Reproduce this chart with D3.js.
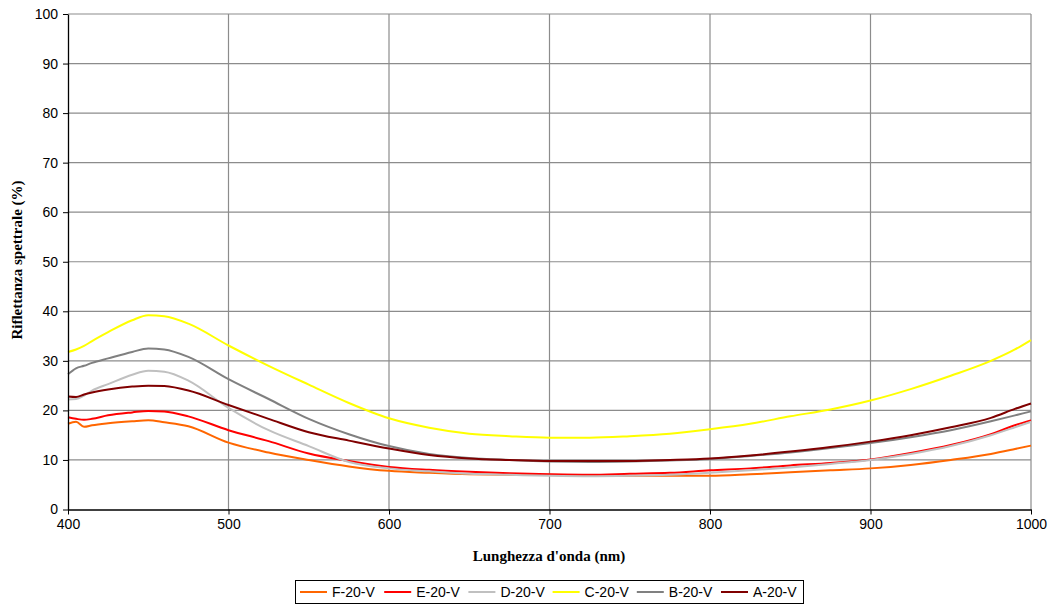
<!DOCTYPE html>
<html>
<head>
<meta charset="utf-8">
<script src="https://cdn.jsdelivr.net/npm/d3@7"></script>
<style>
  html, body { margin: 0; padding: 0; background: #fff; }
  svg { display: block; }
</style>
</head>
<body>
<svg id="chart" width="1052" height="607"></svg>
<script>
// Wavelengths (nm) sampled for every series
const wavelengths = [400,405,410,415,425,440,450,460,475,500,525,550,575,600,625,650,675,700,725,750,775,800,825,850,875,900,925,950,975,990,1000];

// Spectral reflectance (%) per sample
const seriesF = [17.3,17.7,16.7,17.0,17.4,17.8,18.0,17.6,16.8,13.5,11.5,10.0,8.7,7.8,7.4,7.1,7.0,7.0,6.9,6.8,6.8,6.8,7.1,7.5,7.9,8.3,9.0,10.0,11.2,12.2,12.9];
const seriesE = [18.6,18.3,18.1,18.3,19.0,19.6,19.9,19.8,18.8,16.0,13.8,11.3,9.8,8.6,8.0,7.6,7.3,7.1,7.0,7.2,7.4,7.9,8.3,8.9,9.4,10.1,11.4,13.0,15.2,17.0,18.0];
const seriesD = [22.2,22.3,23.0,24.0,25.3,27.2,28.0,27.8,26.0,20.5,16.0,12.8,9.6,8.3,7.7,7.2,7.0,6.8,6.7,6.8,7.0,7.4,7.9,8.5,9.2,10.0,11.2,12.8,15.0,16.6,17.7];
const seriesC = [31.8,32.3,33.0,34.0,35.8,38.2,39.2,39.0,37.5,33.1,29.0,25.2,21.5,18.4,16.5,15.3,14.8,14.5,14.5,14.8,15.3,16.2,17.3,18.8,20.2,22.0,24.3,27.0,30.0,32.3,34.2];
const seriesB = [27.3,28.5,29.0,29.6,30.5,31.8,32.5,32.3,30.8,26.3,22.3,18.3,15.2,12.8,11.2,10.4,10.0,9.7,9.6,9.7,9.9,10.2,10.8,11.5,12.4,13.4,14.6,16.0,17.8,19.0,19.8];
const seriesA = [22.8,22.7,23.2,23.6,24.2,24.8,25.0,24.9,24.0,21.1,18.3,15.6,13.9,12.3,11.0,10.3,10.0,9.8,9.8,9.8,10.0,10.3,10.9,11.7,12.6,13.7,15.0,16.6,18.5,20.3,21.4];

const seriesNames = ["F-20-V","E-20-V","D-20-V","C-20-V","B-20-V","A-20-V"];
const seriesColors = ["#FF6600","#FF0000","#C0C0C0","#FFFF00","#808080","#800000"];
const seriesValues = [seriesF, seriesE, seriesD, seriesC, seriesB, seriesA];

const xTicks = [400,500,600,700,800,900,1000];
const yTicks = [0,10,20,30,40,50,60,70,80,90,100];

const svg = d3.select("#chart");
const plotLeft = 68, plotRight = 1031, plotTop = 14, plotBottom = 509.5;

const x = d3.scaleLinear().domain([400, 1000]).range([plotLeft, plotRight]);
const y = d3.scaleLinear().domain([0, 100]).range([plotBottom, plotTop]);

// Gridlines
const grid = svg.append("g");
grid.selectAll("line.h").data(yTicks.filter(d => d > 0)).join("line")
  .attr("x1", plotLeft).attr("x2", plotRight)
  .attr("y1", d => y(d)).attr("y2", d => y(d))
  .attr("stroke", "#8c8c8c").attr("stroke-width", 1.2);
grid.selectAll("line.v").data(xTicks.filter(d => d > 400)).join("line")
  .attr("y1", plotTop).attr("y2", plotBottom)
  .attr("x1", d => x(d)).attr("x2", d => x(d))
  .attr("stroke", "#8c8c8c").attr("stroke-width", 1.2);

// Series lines
const line = d3.line()
  .x((d, i) => x(wavelengths[i]))
  .y(d => y(d))
  .curve(d3.curveMonotoneX);

svg.append("g").selectAll("path").data(seriesValues).join("path")
  .attr("d", d => line(d))
  .attr("fill", "none")
  .attr("stroke", (d, i) => seriesColors[i])
  .attr("stroke-width", 2);

// Axes
const yAxis = svg.append("g").attr("transform", `translate(${plotLeft},0)`)
  .call(d3.axisLeft(y).tickValues(yTicks).tickFormat(d3.format("d"))
    .tickSize(5).tickSizeOuter(0).tickPadding(5));
const xAxis = svg.append("g").attr("transform", `translate(0,${plotBottom})`)
  .call(d3.axisBottom(x).tickValues(xTicks).tickFormat(d3.format("d"))
    .tickSize(5).tickSizeOuter(0).tickPadding(5));

[yAxis, xAxis].forEach(ax => {
  ax.select(".domain").attr("stroke", "#000").attr("stroke-width", 1.3);
  ax.selectAll(".tick line").attr("stroke", "#000");
  ax.selectAll(".tick text")
    .attr("font-family", "Liberation Sans, Arial, sans-serif")
    .attr("font-size", 14).attr("fill", "#000");
});

// Axis titles
svg.append("text")
  .attr("x", 549).attr("y", 561)
  .attr("text-anchor", "middle")
  .attr("font-family", "Liberation Serif, Times New Roman, serif")
  .attr("font-weight", "bold").attr("font-size", 15)
  .text("Lunghezza d'onda (nm)");

svg.append("text")
  .attr("transform", `translate(22,260) rotate(-90)`)
  .attr("text-anchor", "middle")
  .attr("font-family", "Liberation Serif, Times New Roman, serif")
  .attr("font-weight", "bold").attr("font-size", 15)
  .text("Riflettanza spettrale (%)");

// Legend
const legend = svg.append("g");
legend.append("rect")
  .attr("x", 295.5).attr("y", 580.5).attr("width", 508).attr("height", 23)
  .attr("fill", "#fff").attr("stroke", "#000").attr("stroke-width", 1);

const item = legend.selectAll("g.item").data(seriesNames).join("g")
  .attr("transform", (d, i) => `translate(${300 + i * 84.2},592)`);
item.append("line")
  .attr("x1", 0).attr("x2", 27).attr("y1", 0).attr("y2", 0)
  .attr("stroke", (d, i) => seriesColors[i]).attr("stroke-width", 2);
item.append("text")
  .attr("x", 32).attr("y", 5)
  .attr("font-family", "Liberation Sans, Arial, sans-serif")
  .attr("font-size", 14).attr("fill", "#000")
  .text(d => d);
</script>
</body>
</html>
